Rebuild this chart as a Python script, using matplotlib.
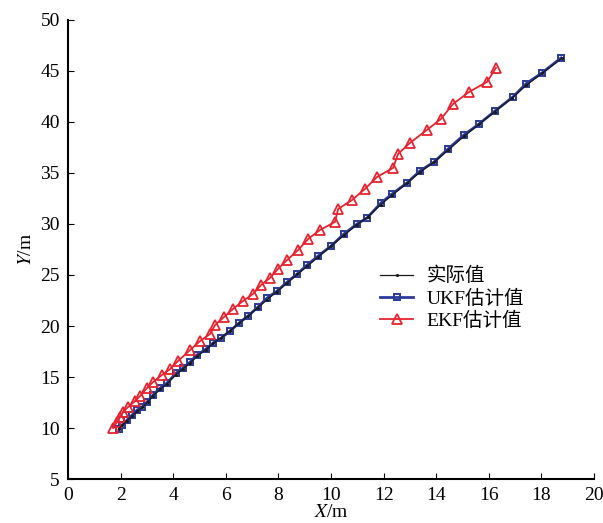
import numpy as np
import matplotlib.pyplot as plt

plt.rcParams['font.family'] = ['Liberation Serif', 'Noto Sans CJK SC']
plt.rcParams['mathtext.fontset'] = 'stix'

# UKF估计值
ukf_x = [1.94, 2.05, 2.24, 2.43, 2.62, 2.81, 3.00, 3.23, 3.50, 3.76, 4.11, 4.37, 4.64, 4.90,
         5.25, 5.51, 5.82, 6.16, 6.50, 6.84, 7.22, 7.57, 7.95, 8.33, 8.71, 9.09, 9.51, 10.00,
         10.49, 10.99, 11.37, 11.90, 12.32, 12.89, 13.38, 13.92, 14.45, 15.06, 15.63, 16.24,
         16.92, 17.41, 18.02, 18.75]
ukf_y = [9.90, 10.29, 10.78, 11.27, 11.76, 12.06, 12.55, 13.24, 13.92, 14.41, 15.39, 15.88,
         16.47, 17.16, 17.75, 18.33, 18.82, 19.51, 20.29, 20.98, 21.86, 22.75, 23.43, 24.31,
         25.10, 25.98, 26.86, 27.84, 29.02, 30.00, 30.59, 32.06, 32.94, 34.02, 35.20, 36.08,
         37.35, 38.73, 39.80, 41.08, 42.45, 43.73, 44.80, 46.27]

# 实际值
true_x = [1.93, 2.06, 2.23, 2.44, 2.63, 2.82, 3.02, 3.24, 3.50, 3.77, 4.10, 4.36, 4.64, 4.91,
          5.24, 5.52, 5.83, 6.15, 6.49, 6.85, 7.21, 7.57, 7.94, 8.33, 8.72, 9.10, 9.52, 9.99,
          10.48, 10.97, 11.39, 11.89, 12.33, 12.88, 13.37, 13.92, 14.46, 15.05, 15.62, 16.23,
          16.90, 17.42, 18.03, 18.77]
true_y = [9.95, 10.28, 10.70, 11.19, 11.65, 12.03, 12.52, 13.18, 13.80, 14.36, 15.23, 15.79,
          16.38, 17.05, 17.67, 18.29, 18.86, 19.53, 20.26, 20.99, 21.80, 22.58, 23.38, 24.23,
          25.06, 25.88, 26.78, 27.81, 28.87, 29.91, 30.68, 31.90, 32.84, 33.99, 35.05, 36.07,
          37.25, 38.58, 39.75, 41.02, 42.38, 43.58, 44.77, 46.22]

# EKF估计值
ekf_x = [1.71, 1.86, 1.98, 2.09, 2.28, 2.55, 2.74, 3.00, 3.23, 3.57, 3.88, 4.18, 4.64, 5.02,
         5.40, 5.59, 5.93, 6.27, 6.65, 7.03, 7.34, 7.68, 7.98, 8.33, 8.75, 9.13, 9.58, 10.15,
         10.27, 10.80, 11.29, 11.75, 12.36, 12.55, 13.00, 13.65, 14.18, 14.64, 15.25, 15.93,
         16.27]
ekf_y = [10.00, 10.59, 11.08, 11.57, 12.06, 12.65, 13.14, 13.92, 14.51, 15.20, 15.78, 16.57,
         17.65, 18.53, 19.22, 20.10, 20.88, 21.67, 22.45, 23.14, 24.02, 24.71, 25.59, 26.47,
         27.45, 28.53, 29.41, 30.20, 31.47, 32.35, 33.43, 34.61, 35.49, 36.86, 37.94, 39.22,
         40.29, 41.76, 42.94, 43.92, 45.29]

fig = plt.figure(figsize=(6.03, 5.23), dpi=100)
ax = fig.add_axes([0.113, 0.084, 0.872, 0.878])

ax.plot(ukf_x, ukf_y, color='#2b3a98', lw=2.0, marker='s', ms=5, mfc='none',
        mew=1.4, label='UKF估计值', zorder=2)
ax.plot(ekf_x, ekf_y, color='#e8232f', lw=1.3, marker='^', ms=6.5, mfc='none',
        mew=1.3, label='EKF估计值', zorder=2)
ax.plot(true_x, true_y, color='#1a1a1a', lw=0.9, marker='.', ms=2.5, label='实际值', zorder=3)

ax.set_xlim(0, 20)
ax.set_ylim(5, 50)
ax.set_xticks(np.arange(0, 21, 2))
ax.set_yticks(np.arange(5, 51, 5))
ax.spines['top'].set_visible(False)
ax.spines['right'].set_visible(False)
ax.spines['left'].set_linewidth(1.5)
ax.spines['bottom'].set_linewidth(1.5)
ax.tick_params(direction='in', length=4, width=0.8, labelsize=14, pad=6)

ax.set_xlabel('$X$/m', fontsize=14, labelpad=0)
ax.set_ylabel('$Y$/m', fontsize=14, labelpad=4)

h, l = ax.get_legend_handles_labels()
ax.legend([h[2], h[0], h[1]], [l[2], l[0], l[1]], loc='upper left',
          bbox_to_anchor=(0.56, 0.5), frameon=False, fontsize=14,
          handlelength=1.7, labelspacing=0.2, handletextpad=0.7)

fig.savefig('out.png', dpi=100)
